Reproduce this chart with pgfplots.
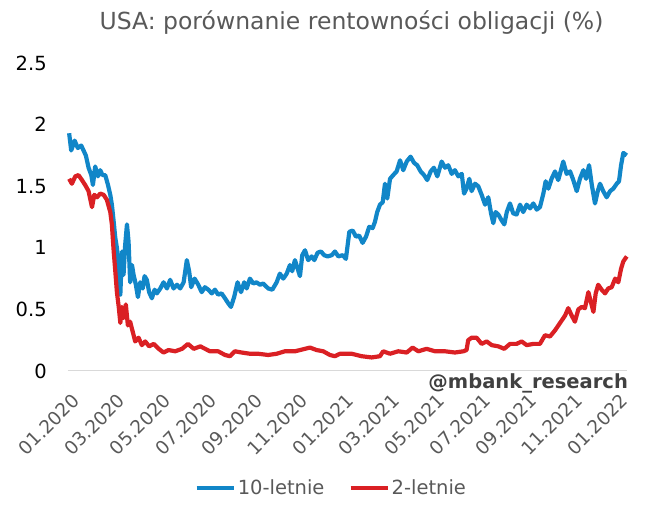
\documentclass[border=0pt]{standalone}
\usepackage{fontspec}
\setmainfont{DejaVu Sans}
\usepackage{pgfplots}
\pgfplotsset{compat=1.18}
\definecolor{blueten}{RGB}{17,134,200}
\definecolor{redtwo}{RGB}{218,32,36}
\definecolor{txtgray}{RGB}{89,89,89}
\newcommand{\lbl}{\fontsize{19.5}{23}\selectfont}

\begin{document}
\begin{tikzpicture}
\useasboundingbox (0,0) rectangle (659pt,506pt);
\begin{axis}[
    at={(68pt,135pt)}, anchor=south west,
    scale only axis, width=559pt, height=308pt,
    xmin=-0.04, xmax=24.42, ymin=0, ymax=2.5,
    clip=false,
    axis x line=bottom, axis y line=left,
    x axis line style={draw=black!15, line width=1pt, -},
    y axis line style={draw=none},
    tick style={draw=none},
    /pgf/number format/assume math mode=true,
    xtick={0,2,...,24},
    xticklabels={01.2020,03.2020,05.2020,07.2020,09.2020,11.2020,01.2021,
                 03.2021,05.2021,07.2021,09.2021,11.2021,01.2022},
    xticklabel style={font=\fontsize{18.5}{22}\selectfont, text=txtgray, inner sep=0pt,
                      xshift=2pt, yshift=-19pt, rotate=45, anchor=north east},
    ytick={0,0.5,1,1.5,2,2.5},
    yticklabel style={font=\lbl, text=black, inner sep=0pt, xshift=-19pt, anchor=east},
    title={USA: porównanie rentowności obligacji (\%)},
    title style={font=\fontsize{23.5}{28}\selectfont, text=txtgray,
                 at={(0.5,1)}, anchor=base, xshift=4pt, yshift=27pt},
    legend style={at={(0.471,-0.38)}, anchor=center, draw=none, fill=none,
                  legend columns=2, font=\lbl, text=txtgray,
                  /tikz/every even column/.append style={column sep=22pt}},
    legend image code/.code={\draw[#1] (0pt,0pt) -- (37pt,0pt);},
]
% 10-letnie
\addplot[blueten, line width=4.2pt, line join=round] coordinates {
(0.01,1.93) (0.10,1.79) (0.25,1.87) (0.39,1.81) (0.54,1.83) (0.64,1.79)
(0.74,1.75) (0.86,1.65) (0.98,1.59) (1.05,1.51) (1.15,1.66) (1.27,1.58)
(1.37,1.63) (1.47,1.59) (1.59,1.59) (1.71,1.51) (1.81,1.43) (1.88,1.35)
(1.96,1.21) (2.03,1.08) (2.10,1.00) (2.18,0.83) (2.25,0.62) (2.32,0.97)
(2.39,0.78) (2.46,1.02) (2.54,1.19) (2.61,1.05) (2.68,0.72) (2.76,0.86)
(2.83,0.78) (2.93,0.70) (3.02,0.60) (3.12,0.72) (3.23,0.67) (3.31,0.77)
(3.41,0.74) (3.51,0.64) (3.63,0.59) (3.75,0.66) (3.85,0.63) (4.00,0.67)
(4.14,0.72) (4.29,0.67) (4.43,0.74) (4.58,0.67) (4.73,0.70) (4.87,0.67)
(5.02,0.72) (5.16,0.90) (5.26,0.81) (5.35,0.68) (5.50,0.75) (5.66,0.70)
(5.81,0.64) (5.95,0.68) (6.10,0.66) (6.25,0.63) (6.39,0.66) (6.53,0.62)
(6.68,0.63) (6.83,0.59) (6.97,0.55) (7.09,0.52) (7.23,0.60) (7.38,0.72)
(7.53,0.64) (7.67,0.72) (7.78,0.67) (7.92,0.75) (8.07,0.71) (8.21,0.72)
(8.36,0.70) (8.50,0.71) (8.72,0.67) (8.90,0.66) (9.09,0.72) (9.23,0.79)
(9.38,0.75) (9.53,0.79) (9.67,0.86) (9.77,0.81) (9.89,0.90) (10.01,0.83)
(10.11,0.77) (10.21,0.94) (10.33,0.98) (10.47,0.90) (10.62,0.93) (10.74,0.90)
(10.88,0.96) (11.03,0.97) (11.17,0.94) (11.32,0.93) (11.50,0.94) (11.64,0.97)
(11.79,0.93) (11.98,0.94) (12.12,0.91) (12.27,1.13) (12.42,1.14) (12.56,1.09)
(12.70,1.10) (12.85,1.04) (13.00,1.09) (13.14,1.17) (13.29,1.16) (13.39,1.21)
(13.49,1.29) (13.61,1.35) (13.73,1.37) (13.83,1.52) (13.93,1.40) (14.05,1.56)
(14.19,1.59) (14.34,1.62) (14.49,1.71) (14.63,1.63) (14.78,1.70) (14.95,1.74)
(15.10,1.69) (15.24,1.67) (15.39,1.62) (15.54,1.59) (15.68,1.55) (15.83,1.62)
(15.97,1.65) (16.12,1.58) (16.31,1.70) (16.46,1.65) (16.60,1.67) (16.75,1.60)
(16.89,1.63) (17.04,1.58) (17.19,1.60) (17.29,1.44) (17.40,1.48) (17.52,1.56)
(17.62,1.46) (17.77,1.52) (17.91,1.50) (18.06,1.43) (18.21,1.35) (18.35,1.41)
(18.47,1.28) (18.57,1.20) (18.67,1.29) (18.79,1.27) (18.91,1.23) (19.05,1.19)
(19.16,1.29) (19.30,1.36) (19.44,1.28) (19.59,1.27) (19.74,1.35) (19.88,1.29)
(20.03,1.35) (20.18,1.32) (20.32,1.36) (20.47,1.31) (20.61,1.33) (20.76,1.44)
(20.86,1.54) (20.98,1.48) (21.12,1.56) (21.27,1.62) (21.41,1.55) (21.53,1.63)
(21.63,1.70) (21.78,1.60) (21.93,1.62) (22.07,1.55) (22.22,1.46) (22.36,1.56)
(22.51,1.63) (22.63,1.56) (22.76,1.67) (22.88,1.51) (23.02,1.36) (23.14,1.46)
(23.24,1.52) (23.38,1.46) (23.53,1.41) (23.68,1.46) (23.82,1.48) (23.97,1.52)
(24.07,1.54) (24.16,1.67) (24.26,1.77) (24.41,1.75)
};
\addlegendentry{10-letnie}
% 2-letnie
\addplot[redtwo, line width=4.2pt, line join=round] coordinates {
(0.01,1.56) (0.13,1.52) (0.28,1.58) (0.42,1.59) (0.57,1.55) (0.71,1.51)
(0.86,1.46) (1.01,1.33) (1.11,1.43) (1.23,1.41) (1.37,1.44) (1.52,1.43)
(1.66,1.39) (1.81,1.29) (1.88,1.19) (1.96,0.97) (2.03,0.81) (2.10,0.64)
(2.18,0.52) (2.25,0.39) (2.32,0.52) (2.39,0.43) (2.49,0.54) (2.58,0.37)
(2.68,0.40) (2.79,0.32) (2.90,0.24) (3.05,0.27) (3.19,0.21) (3.34,0.24)
(3.51,0.20) (3.71,0.22) (3.93,0.18) (4.14,0.15) (4.36,0.17) (4.65,0.16)
(4.95,0.18) (5.21,0.22) (5.46,0.18) (5.75,0.20) (6.17,0.16) (6.53,0.16)
(6.83,0.13) (7.05,0.12) (7.26,0.16) (7.56,0.15) (7.92,0.14) (8.28,0.14)
(8.72,0.13) (9.09,0.14) (9.45,0.16) (9.89,0.16) (10.33,0.18) (10.55,0.19)
(10.84,0.17) (11.13,0.16) (11.42,0.13) (11.64,0.12) (11.86,0.14) (12.37,0.14)
(12.81,0.12) (13.25,0.11) (13.61,0.12) (13.75,0.16) (14.05,0.14) (14.41,0.16)
(14.78,0.15) (15.04,0.19) (15.29,0.16) (15.65,0.18) (16.02,0.16) (16.46,0.16)
(16.89,0.15) (17.26,0.16) (17.40,0.17) (17.47,0.25) (17.62,0.27) (17.84,0.27)
(18.06,0.22) (18.28,0.24) (18.50,0.21) (18.79,0.20) (19.05,0.18) (19.30,0.22)
(19.59,0.22) (19.81,0.24) (20.03,0.21) (20.32,0.22) (20.61,0.22) (20.83,0.29)
(21.05,0.28) (21.27,0.33) (21.49,0.39) (21.71,0.45) (21.85,0.51) (22.00,0.45)
(22.14,0.40) (22.29,0.50) (22.44,0.52) (22.58,0.51) (22.73,0.64) (22.84,0.56)
(22.95,0.48) (23.05,0.63) (23.16,0.70) (23.31,0.66) (23.46,0.63) (23.60,0.67)
(23.75,0.68) (23.90,0.75) (24.04,0.72) (24.16,0.83) (24.26,0.89) (24.41,0.93)
};
\addlegendentry{2-letnie}
\node[anchor=base east, inner sep=0pt, font=\bfseries\lbl, text=black!75]
    at (rel axis cs:1.002,-0.058) {@mbank\_research};
\end{axis}
\end{tikzpicture}
\end{document}
